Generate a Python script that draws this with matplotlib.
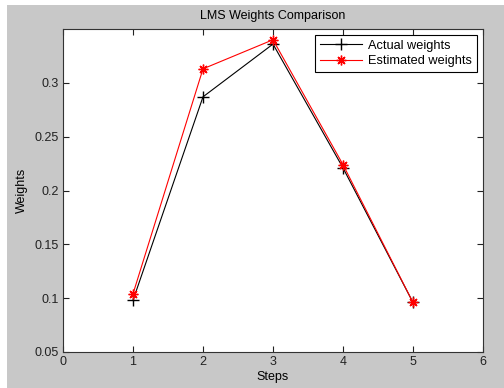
import matplotlib
matplotlib.use("Agg")
import matplotlib.pyplot as plt
from matplotlib.patches import Rectangle

steps = [1, 2, 3, 4, 5]
actual = [0.098, 0.287, 0.336, 0.221, 0.096]
estimated = [0.104, 0.313, 0.340, 0.224, 0.096]
xticks = [0, 1, 2, 3, 4, 5, 6]
yticks = [0.05, 0.1, 0.15, 0.2, 0.25, 0.3]

plt.rcParams['font.family'] = ['Liberation Sans', 'DejaVu Sans']
plt.rcParams['font.size'] = 9

fig = plt.figure(figsize=(5.04, 3.88), dpi=100)
fig.patch.set_facecolor('white')
fig.patches.append(Rectangle((7/504, 0), 1 - 7/504, 1 - 5/388, transform=fig.transFigure,
                             facecolor='#c8c8c8', edgecolor='none', zorder=-10))

ax = fig.add_axes([63/504, 36/388, 420/504, 323/388])
ax.set_facecolor('white')
ax.plot(steps, actual, color='black', marker='+', markersize=8, markeredgewidth=1.0,
        linewidth=0.8, label='Actual weights')
ax.plot(steps, estimated, color='red', marker=(8, 2, 0), markersize=7, markeredgewidth=1.0,
        linewidth=0.8, label='Estimated weights')
ax.set_xlim(0, 6)
ax.set_ylim(0.05, 0.35)
ax.set_xticks(xticks)
ax.set_yticks(yticks)
ax.set_yticklabels(['0.05', '0.1', '0.15', '0.2', '0.25', '0.3'])
ax.tick_params(direction='in', top=True, right=True, length=4, width=0.8, colors='#222222',
               labelsize=9, pad=3)
for s in ax.spines.values():
    s.set_color('#333333')
    s.set_linewidth(0.8)
ax.set_xlabel('Steps', fontsize=9, labelpad=2)
ax.set_ylabel('Weights', fontsize=9, labelpad=5)
ax.set_title('LMS Weights Comparison', fontsize=9, pad=7)
leg = ax.legend(loc='upper right', fancybox=False, framealpha=1, edgecolor='black',
                fontsize=9.2, borderpad=0.35, handlelength=3.3, labelspacing=0.25,
                borderaxespad=0.5, handletextpad=0.5)
leg.get_frame().set_linewidth(0.8)
fig.savefig('out.png', dpi=100, facecolor=fig.get_facecolor())
